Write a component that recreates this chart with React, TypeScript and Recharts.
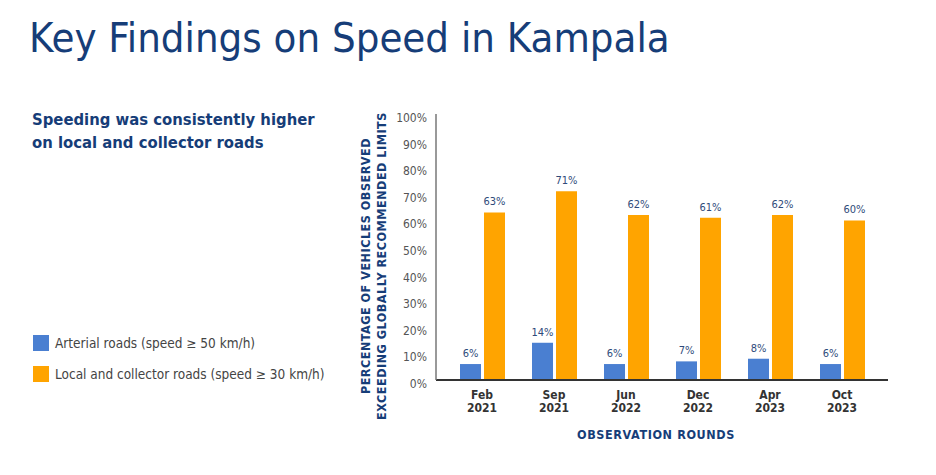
import React from 'react';
import { BarChart, Bar, XAxis, YAxis, LabelList } from 'recharts';

const rounds = ['Feb 2021', 'Sep 2021', 'Jun 2022', 'Dec 2022', 'Apr 2023', 'Oct 2023'];
const arterial = [6, 14, 6, 7, 8, 6];
const localCollector = [63, 71, 62, 61, 62, 60];
const yTicks = [0, 10, 20, 30, 40, 50, 60, 70, 80, 90, 100];

const data = rounds.map((r, i) => ({ round: r, arterial: arterial[i], local: localCollector[i] }));

const BLUE = '#4a7fd1';
const ORANGE = '#ffa400';
const NAVY = '#163d78';
const FONT = '"Liberation Sans Narrow", "DejaVu Sans Condensed", "Roboto", sans-serif';

function XTick(props: any) {
  const { x, y, payload } = props;
  const [m, yr] = String(payload.value).split(' ');
  return (
    <g>
      <text x={x} y={y + 11} textAnchor="middle" fill="#333" fontSize={12} fontWeight={700} fontFamily={FONT}>{m}</text>
      <text x={x} y={y + 24} textAnchor="middle" fill="#333" fontSize={12} fontWeight={700} fontFamily={FONT}>{yr}</text>
    </g>
  );
}

function YTick(props: any) {
  const { x, y, payload } = props;
  return (
    <text x={x - 1} y={y + 4} dy={4} textAnchor="end" fill="#555" fontSize={12} fontFamily={FONT}>
      {payload.value}%
    </text>
  );
}

function YTitle() {
  const cy = 266;
  const style = { fontFamily: FONT, fontSize: 12.5, fontWeight: 700, letterSpacing: 0.5, fill: NAVY };
  return (
    <g>
      <text x={370} y={cy} textAnchor="middle" transform={`rotate(-90 370 ${cy})`} style={style}>
        PERCENTAGE OF VEHICLES OBSERVED
      </text>
      <text x={386} y={cy} textAnchor="middle" transform={`rotate(-90 386 ${cy})`} style={style}>
        EXCEEDING GLOBALLY RECOMMENDED LIMITS
      </text>
    </g>
  );
}

const pctLabel = (v: any) => `${v}%`;

export default function App() {
  return (
    <div style={{ position: 'relative', width: 936, height: 475, background: '#fff', fontFamily: FONT }}>
      <style>{`body{margin:0}`}</style>
      <div style={{ position: 'absolute', left: 29, top: 13, fontSize: 41.5, color: NAVY, whiteSpace: 'nowrap' }}>
        Key Findings on Speed in Kampala
      </div>
      <div style={{ position: 'absolute', left: 32, top: 108, fontSize: 16.5, fontWeight: 700, color: NAVY, lineHeight: '23px' }}>
        Speeding was consistently higher<br />on local and collector roads
      </div>
      <div style={{ position: 'absolute', left: 33, top: 335, fontSize: 13.5, color: '#444' }}>
        <div style={{ display: 'flex', alignItems: 'center', height: 16, marginBottom: 15 }}>
          <span style={{ width: 16, height: 16, background: BLUE, marginRight: 6 }} />
          Arterial roads (speed ≥ 50 km/h)
        </div>
        <div style={{ display: 'flex', alignItems: 'center', height: 16 }}>
          <span style={{ width: 16, height: 16, background: ORANGE, marginRight: 6 }} />
          Local and collector roads (speed ≥ 30 km/h)
        </div>
      </div>
      <div style={{ position: 'absolute', left: 0, top: 0 }}>
        <BarChart
          width={936}
          height={475}
          data={data}
          margin={{ top: 114, right: 48, bottom: 55, left: 386 }}
          barSize={21}
          barGap={3}
        >
          <XAxis
            dataKey="round"
            height={40}
            padding={{ left: 10, right: 10 }}
            tickLine={false}
            axisLine={{ stroke: '#333', strokeWidth: 2 }}
            tick={<XTick />}
            interval={0}
          />
          <YAxis
            width={50}
            domain={[0, 100]}
            ticks={yTicks}
            tickLine={false}
            axisLine={{ stroke: '#777', strokeWidth: 1.5 }}
            tick={<YTick />}
            interval={0}
          />
          <Bar dataKey="arterial" fill={BLUE} isAnimationActive={false}>
            <LabelList dataKey="arterial" position="top" offset={7} formatter={pctLabel} fill="#2f4a7a" fontSize={11} fontFamily={FONT} />
          </Bar>
          <Bar dataKey="local" fill={ORANGE} isAnimationActive={false}>
            <LabelList dataKey="local" position="top" offset={7} formatter={pctLabel} fill="#2f4a7a" fontSize={11} fontFamily={FONT} />
          </Bar>
          <YTitle />
          <text x={656} y={439} textAnchor="middle" fill={NAVY} fontSize={12.5} fontWeight={700} letterSpacing={0.6} fontFamily={FONT}>
            OBSERVATION ROUNDS
          </text>
        </BarChart>
      </div>
    </div>
  );
}
